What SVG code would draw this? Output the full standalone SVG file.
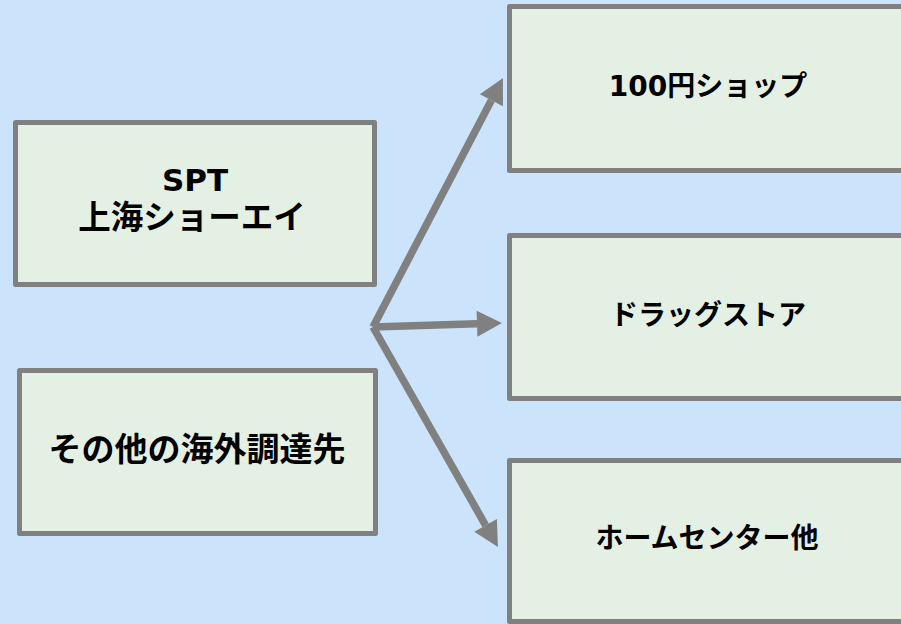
<svg xmlns="http://www.w3.org/2000/svg" width="901" height="624" viewBox="0 0 901 624">
<style>
.box{fill:#e5f0e4;stroke:#808080;stroke-width:5;stroke-linejoin:round}
.t{font-family:"DejaVu Sans","Noto Sans CJK JP",sans-serif;font-weight:bold;fill:#000;text-anchor:middle}
.l{stroke:#808080;stroke-width:7.5;fill:none;marker-end:url(#ah)}
</style>
<defs>
<marker id="ah" markerUnits="userSpaceOnUse" markerWidth="26" markerHeight="26" refX="0" refY="13" orient="auto" overflow="visible">
<path d="M0,0 L25,13 L0,26 Z" fill="#808080"/>
</marker>
</defs>
<rect width="901" height="624" fill="#cce4fb"/>
<g id="node-spt">
<rect class="box" x="15.5" y="122.5" width="359" height="162"/>
<text class="t" x="195" y="191" font-size="31">SPT</text>
<text class="t" x="192" y="229" font-size="32.5">上海ショーエイ</text>
</g>
<g id="node-other">
<rect class="box" x="19.5" y="370.5" width="356" height="163"/>
<text class="t" x="197" y="461" font-size="33">その他の海外調達先</text>
</g>
<g id="node-100yen">
<rect class="box" x="509.5" y="6.5" width="400" height="164"/>
<text class="t" x="708" y="96" font-size="28">100円ショップ</text>
</g>
<g id="node-drug">
<rect class="box" x="509.5" y="235.5" width="400" height="163"/>
<text class="t" x="708" y="325" font-size="28">ドラッグストア</text>
</g>
<g id="node-home">
<rect class="box" x="509.5" y="460.5" width="400" height="161"/>
<text class="t" x="707" y="548" font-size="28">ホームセンター他</text>
</g>
<g id="connectors">
<line class="l" x1="373" y1="327" x2="491.4" y2="100.2"/>
<line class="l" x1="373" y1="327" x2="477" y2="323.8"/>
<line class="l" x1="373" y1="327" x2="485.6" y2="525.3"/>
</g>
</svg>
